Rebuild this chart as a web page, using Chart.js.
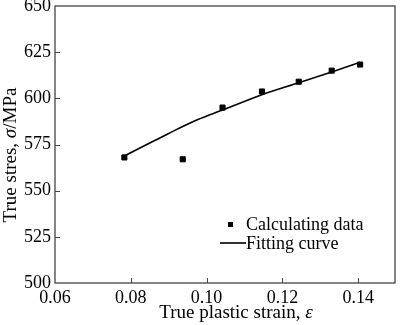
<!DOCTYPE html>
<html>
<head>
<meta charset="utf-8">
<script src="https://cdn.jsdelivr.net/npm/chart.js@4"></script>
<style>
  html, body { margin: 0; padding: 0; background: #fff; }
  #wrap { width: 400px; height: 325px; }
</style>
</head>
<body>
<div id="wrap"><canvas id="chart" width="400" height="325"></canvas></div>
<script>
// ====================== DATA ======================
const calcStrain = [0.0783, 0.0937, 0.1042, 0.1146, 0.1243, 0.1330, 0.1405];
const calcStress = [568, 567, 595, 603.7, 609, 615, 618.3];

const fitStrain = [0.078, 0.085, 0.090, 0.0977, 0.104, 0.1146, 0.1243, 0.133, 0.1405];
const fitStress = [568.5, 575.8, 581, 588.5, 593.5, 602, 608.5, 614.3, 619.5];

const xTicks = [0.06, 0.08, 0.10, 0.12, 0.14];
const yTicks = [500, 525, 550, 575, 600, 625, 650];

const legendLabels = ["Calculating data", "Fitting curve"];

const serif = "'Liberation Serif', 'DejaVu Serif', serif";
const frameColor = "#444";

// ====================== FRAME, TICKS, TITLES, LEGEND ======================
const decorPlugin = {
  id: "decor",
  afterDraw(chart) {
    const { ctx, chartArea: a, scales } = chart;
    ctx.save();

    // box around plot
    ctx.strokeStyle = frameColor;
    ctx.lineWidth = 1.3;
    ctx.strokeRect(a.left, a.top, a.right - a.left, a.bottom - a.top);

    // inward tick marks
    ctx.beginPath();
    xTicks.forEach(v => {
      const px = Math.round(scales.x.getPixelForValue(v)) + 0.5;
      if (px > a.left + 2 && px < a.right - 2) {
        ctx.moveTo(px, a.bottom);
        ctx.lineTo(px, a.bottom - 5);
      }
    });
    yTicks.forEach(v => {
      const py = Math.round(scales.y.getPixelForValue(v)) + 0.5;
      if (py > a.top + 2 && py < a.bottom - 2) {
        ctx.moveTo(a.left, py);
        ctx.lineTo(a.left + 5, py);
      }
    });
    ctx.lineWidth = 1;
    ctx.stroke();

    ctx.fillStyle = "#000";
    ctx.textBaseline = "middle";

    // x title with italic epsilon
    const xParts = [["True plastic strain, ", "19px " + serif], ["\u03b5", "italic 19px " + serif]];
    let w = 0;
    xParts.forEach(p => { ctx.font = p[1]; w += ctx.measureText(p[0]).width; });
    let x = 236 - w / 2;
    ctx.textAlign = "left";
    xParts.forEach(p => {
      ctx.font = p[1];
      ctx.fillText(p[0], x, 313);
      x += ctx.measureText(p[0]).width;
    });

    // y title with italic sigma
    const yParts = [["True stres, ", "19px " + serif], ["\u03c3", "italic 19px " + serif], ["/MPa", "19px " + serif]];
    w = 0;
    yParts.forEach(p => { ctx.font = p[1]; w += ctx.measureText(p[0]).width; });
    ctx.translate(11, 155);
    ctx.rotate(-Math.PI / 2);
    x = -w / 2;
    yParts.forEach(p => {
      ctx.font = p[1];
      ctx.fillText(p[0], x, 0);
      x += ctx.measureText(p[0]).width;
    });
    ctx.setTransform(1, 0, 0, 1, 0, 0);

    // legend
    ctx.font = "18px " + serif;
    ctx.fillRect(228, 222, 5, 5);
    ctx.fillText(legendLabels[0], 246, 225);
    ctx.beginPath();
    ctx.moveTo(220, 243);
    ctx.lineTo(246, 243);
    ctx.lineWidth = 1.6;
    ctx.strokeStyle = "#000";
    ctx.stroke();
    ctx.fillText(legendLabels[1], 246, 244);

    ctx.restore();
  }
};

// ====================== CHART ======================
new Chart(document.getElementById("chart").getContext("2d"), {
  type: "scatter",
  data: {
    datasets: [
      {
        label: legendLabels[0],
        data: calcStrain.map((v, i) => ({ x: v, y: calcStress[i] })),
        pointStyle: "rect",
        pointRadius: 3.6,
        pointBorderWidth: 1,
        backgroundColor: "#000",
        borderColor: "#000",
        showLine: false
      },
      {
        label: legendLabels[1],
        data: fitStrain.map((v, i) => ({ x: v, y: fitStress[i] })),
        showLine: true,
        pointRadius: 0,
        borderColor: "#000",
        borderWidth: 1.6,
        cubicInterpolationMode: "monotone"
      }
    ]
  },
  options: {
    responsive: false,
    animation: false,
    layout: { padding: { top: 6, right: 1, left: 0, bottom: 0 } },
    plugins: {
      legend: { display: false },
      tooltip: { enabled: false }
    },
    scales: {
      x: {
        type: "linear",
        min: 0.06,
        max: 0.1497,
        afterBuildTicks: s => { s.ticks = xTicks.map(v => ({ value: v })); },
        afterFit: s => { s.height = 42; s.paddingLeft = 0; s.paddingRight = 0; },
        grid: { display: false, drawTicks: false },
        border: { display: false },
        ticks: {
          padding: 4,
          color: "#000",
          font: { family: serif, size: 18 },
          callback: v => v.toFixed(2)
        }
      },
      y: {
        min: 500,
        max: 650,
        afterBuildTicks: s => { s.ticks = yTicks.map(v => ({ value: v })); },
        afterFit: s => { s.width = 55; s.paddingTop = 0; s.paddingBottom = 0; },
        grid: { display: false, drawTicks: false },
        border: { display: false },
        ticks: {
          padding: 4,
          color: "#000",
          font: { family: serif, size: 18 }
        }
      }
    }
  },
  plugins: [decorPlugin]
});
</script>
</body>
</html>
